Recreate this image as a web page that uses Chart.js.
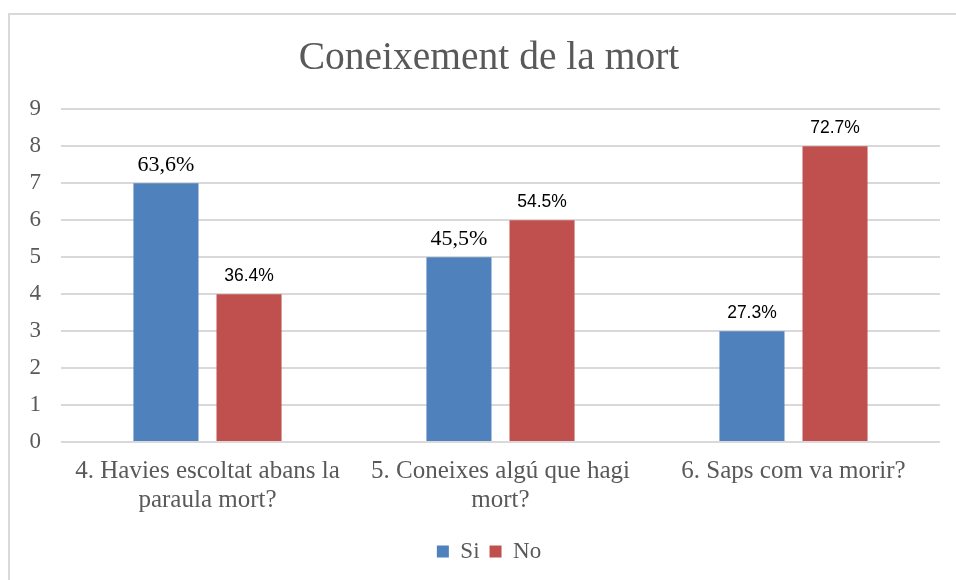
<!DOCTYPE html>
<html>
<head>
<meta charset="utf-8">
<script src="https://cdn.jsdelivr.net/npm/chart.js@4/dist/chart.umd.min.js"></script>
<style>
html,body{margin:0;padding:0;background:#fff;}
#wrap{width:956px;height:580px;position:relative;}
</style>
</head>
<body>
<div id="wrap"><canvas id="c" width="956" height="580"></canvas></div>
<script>
const categories = [["4. Havies escoltat abans la","paraula mort?"],["5. Coneixes algú que hagi","mort?"],["6. Saps com va morir?"]];
const siValues = [7, 5, 3];
const noValues = [4, 6, 8];
const siLabels = ["63,6%", "45,5%", "27.3%"];
const noLabels = ["36.4%", "54.5%", "72.7%"];
const yTicks = [0,1,2,3,4,5,6,7,8,9];

const serif = "'Liberation Serif', serif";
const sans = "'Liberation Sans', sans-serif";
const textCol = '#595959';

const labelPlugin = {
  id: 'barLabels',
  afterDatasetsDraw(chart) {
    const ctx = chart.ctx;
    const sets = [siLabels, noLabels];
    chart.data.datasets.forEach((ds, di) => {
      const meta = chart.getDatasetMeta(di);
      meta.data.forEach((bar, i) => {
        const txt = sets[di][i];
        const isComma = txt.indexOf(',') >= 0;
        ctx.save();
        ctx.fillStyle = '#000';
        ctx.font = isComma ? "22px " + serif : "17.5px " + sans;
        ctx.textAlign = 'center';
        ctx.textBaseline = 'middle';
        ctx.fillText(txt, bar.x, bar.y - 18);
        ctx.restore();
      });
    });
  }
};
const borderPlugin = {
  id: 'frame',
  beforeDraw(chart) {
    const ctx = chart.ctx;
    ctx.save();
    ctx.fillStyle = '#fff';
    ctx.fillRect(0, 0, chart.width, chart.height);
    ctx.strokeStyle = '#d9d9d9';
    ctx.lineWidth = 2;
    ctx.beginPath();
    ctx.moveTo(9, chart.height);
    ctx.lineTo(9, 14);
    ctx.lineTo(chart.width, 14);
    ctx.stroke();
    ctx.restore();
  }
};

new Chart(document.getElementById('c'), {
  type: 'bar',
  data: {
    labels: categories,
    datasets: [
      { label: 'Si', data: siValues, backgroundColor: '#4f81bd', categoryPercentage: 0.567, barPercentage: 0.783 },
      { label: 'No', data: noValues, backgroundColor: '#c0504d', categoryPercentage: 0.567, barPercentage: 0.783 }
    ]
  },
  options: {
    responsive: false,
    animation: false,
    devicePixelRatio: 1,
    layout: { padding: { left: 38, right: 16, top: 0, bottom: 7 } },
    plugins: {
      title: {
        display: true,
        text: 'Coneixement de la mort',
        color: textCol,
        font: { family: serif, size: 39.5, weight: 'normal' },
        padding: { top: 35, bottom: 27 }
      },
      legend: {
        position: 'bottom',
        labels: {
          color: textCol,
          font: { family: serif, size: 23 },
          boxWidth: 12, boxHeight: 12,
          padding: 10
        }
      },
      tooltip: { enabled: false }
    },
    scales: {
      x: {
        afterFit(scale) { scale.height = 88; },
        grid: { display: false },
        border: { display: false },
        ticks: { color: textCol, font: { family: serif, size: 25, lineHeight: 1.15 }, padding: 7.5, maxRotation: 0, autoSkip: false }
      },
      y: {
        min: 0, max: 9,
        afterFit(scale) { scale.width = 23; },
        afterBuildTicks(scale) { scale.ticks = yTicks.map(v => ({ value: v })); },
        grid: { color: '#d9d9d9', lineWidth: 2, drawTicks: false },
        border: { display: false },
        ticks: { color: textCol, font: { family: serif, size: 23 }, mirror: true, crossAlign: 'far', padding: -31.5 }
      }
    }
  },
  plugins: [borderPlugin, labelPlugin]
});
</script>
</body>
</html>
